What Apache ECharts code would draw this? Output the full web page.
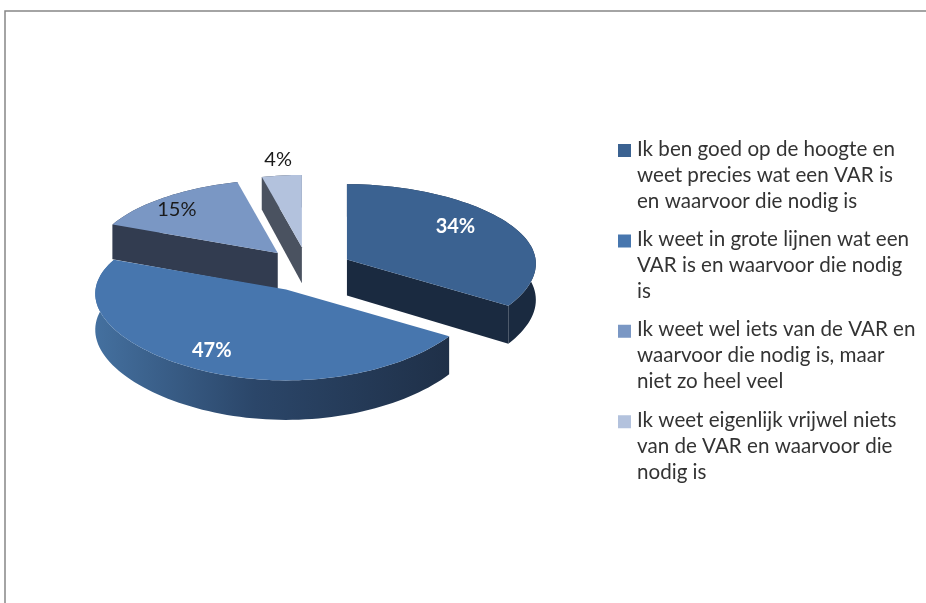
<!DOCTYPE html>
<html><head><meta charset="utf-8">
<style>html,body{margin:0;padding:0;background:#fff}#c{width:926px;height:603px}</style>
<script src="https://cdn.jsdelivr.net/npm/echarts@6/dist/echarts.min.js"></script>
</head><body><div id="c"></div>
<script>
const categories = [
  "Ik ben goed op de hoogte en\nweet precies wat een VAR is\nen waarvoor die nodig is",
  "Ik weet in grote lijnen wat een\nVAR is en waarvoor die nodig\nis",
  "Ik weet wel iets van de VAR en\nwaarvoor die nodig is, maar\nniet zo heel veel",
  "Ik weet eigenlijk vrijwel niets\nvan de VAR en waarvoor die\nnodig is"
];
const values = [34, 47, 15, 4];
const topColors = ["#3b6291", "#4776ae", "#7a97c4", "#b3c2dd"];
const wallColors = ["#1a2a40", "#1f3048", "#323c50", "#4a5260"];
const labelColors = ["#ffffff", "#ffffff", "#1a1a1a", "#1a1a1a"];
const drawOrder = [3, 2, 0, 1];

const total = values.reduce((a, b) => a + b, 0);
const CX = 307.5, CY = 271, EX = 45, EY = 24, R = 185;
const apexShift = [[0, 0], [-1, -3], [0, 0], [0, 0]];
const radiusScale = [0.99, 1, 0.96, 0.95];
const labelFrac = [[0.68, 0.87], [0.85, 0.78], [0.88, 0.76], [1.25, 1.25]];
const rad = d => d * Math.PI / 180;
const wallH = Y => 36 + 3.5 * Y;
function proj(ax, ay, X, Y, k) {
  const s = 1.03 + 0.059 * Y - 0.0614 * Y * Y;
  return [ax + R * X * s * k, ay + (83.5 + 7.5 * Y) * Y * k];
}
function renderSlice(idx) {
  return function (params, api) {
    const v = api.value(0);
    const k = radiusScale[idx];
    let before = 0;
    for (let i = 0; i < idx; i++) before += values[i];
    const a0 = before / total * 360, a1 = (before + v) / total * 360, mid = (a0 + a1) / 2;
    const ax = CX + EX * Math.sin(rad(mid)) + apexShift[idx][0], ay = CY - EY * Math.cos(rad(mid)) + apexShift[idx][1];
    const top = [], bottom = [];
    const steps = Math.max(4, Math.ceil((a1 - a0) / 2));
    for (let i = 0; i <= steps; i++) {
      const t = rad(a0 + (a1 - a0) * i / steps), X = Math.sin(t), Y = -Math.cos(t);
      const p = proj(ax, ay, X, Y, k);
      top.push(p);
      bottom.push([p[0], p[1] + wallH(Y)]);
    }
    const wallFill = idx === 1
      ? new echarts.graphic.LinearGradient(0, 0, 1, 0, [
          { offset: 0, color: "#44709f" }, { offset: 0.45, color: "#2b4669" }, { offset: 1, color: "#1f3048" }])
      : wallColors[idx];
    const children = [];
    children.push({ type: "polygon", shape: { points: top.concat(bottom.slice().reverse()) }, style: { fill: wallFill } });
    const sideWall = (pt, b) => ({
      type: "polygon",
      shape: { points: [[ax, ay], pt, b, [ax, ay + wallH(0)]] },
      style: { fill: wallColors[idx] }
    });
    if (Math.sin(rad(a1)) > 0.01) children.push(sideWall(top[steps], bottom[steps]));
    if (Math.sin(rad(a0)) < -0.01) children.push(sideWall(top[0], bottom[0]));
    children.push({ type: "polygon", shape: { points: [[ax, ay]].concat(top) }, style: { fill: topColors[idx] } });
    const mx = Math.sin(rad(mid)), my = -Math.cos(rad(mid));
    const lp = proj(ax, ay, mx * labelFrac[idx][0], my * labelFrac[idx][1], k);
    children.push({
      type: "text", x: lp[0], y: lp[1],
      style: { text: Math.round(v / total * 100) + "%", fill: labelColors[idx], font: (idx < 2 ? "bold " : "") + "20px Lato", align: "center", verticalAlign: "middle" }
    });
    return { type: "group", children };
  };
}
const chart = echarts.init(document.getElementById("c"), null, { renderer: "canvas" });
chart.setOption({
  animation: false,
  backgroundColor: "#ffffff",
  legend: {
    orient: "vertical", left: 613, top: 131, itemWidth: 13, itemHeight: 78, itemGap: 12.4,
    icon: "path://M0 0h0.1v0.1h-0.1z M0 8h13v13h-13z M0 77.9h0.1v0.1h-0.1z",
    selectedMode: false,
    textStyle: { fontFamily: "Lato", fontSize: 20.6, lineHeight: 26, color: "#333333", padding: [0, 0, 0, 1] },
    itemStyle: { borderWidth: 0 },
    data: categories
  },
  graphic: [{
    type: "polyline", silent: true,
    shape: { points: [[5, 603], [5, 11], [926, 11]] },
    style: { stroke: "#868686", lineWidth: 1.5, fill: null }
  }],
  series: categories.map((name, i) => ({
    type: "custom", name, coordinateSystem: "none",
    z: 2 + drawOrder.indexOf(i),
    itemStyle: { color: topColors[i] },
    data: [[values[i]]],
    renderItem: renderSlice(i),
    silent: true
  }))
});
</script></body></html>
